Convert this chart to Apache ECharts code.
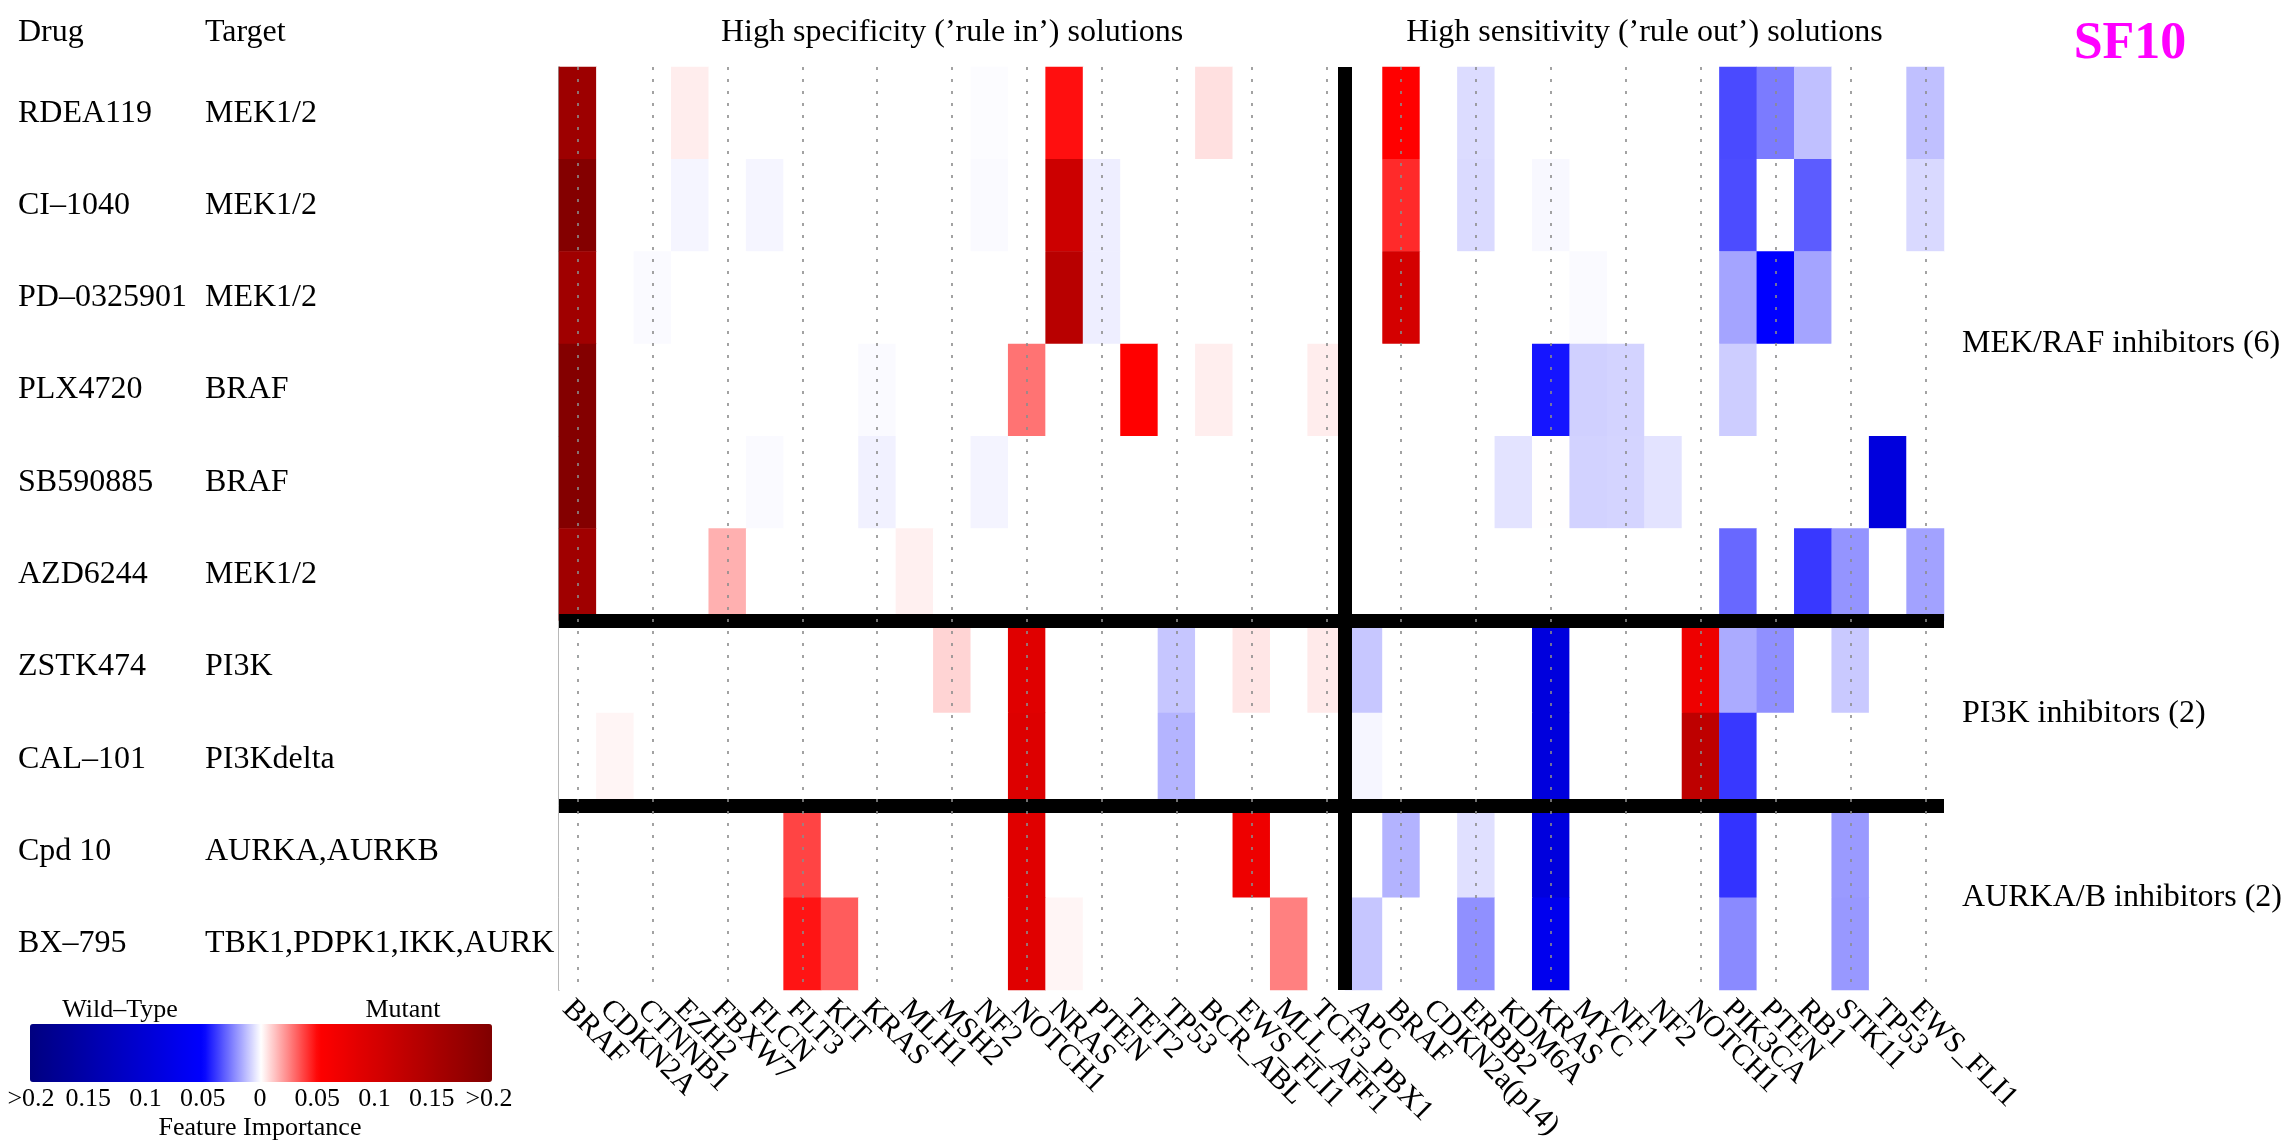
<!DOCTYPE html>
<html><head><meta charset="utf-8">
<script src="https://cdn.jsdelivr.net/npm/echarts@6/dist/echarts.min.js"></script>
<style>html,body{margin:0;padding:0;background:#fff}#c{width:2294px;height:1147px}</style>
</head><body><div id="c"></div>
<script>
// ---------------- data ----------------
const drugs = ['RDEA119', 'CI–1040', 'PD–0325901', 'PLX4720', 'SB590885', 'AZD6244', 'ZSTK474', 'CAL–101', 'Cpd 10', 'BX–795'];
const targets = ['MEK1/2', 'MEK1/2', 'MEK1/2', 'BRAF', 'BRAF', 'MEK1/2', 'PI3K', 'PI3Kdelta', 'AURKA,AURKB', 'TBK1,PDPK1,IKK,AURK'];
const ruleInGenes = ['BRAF', 'CDKN2A', 'CTNNB1', 'EZH2', 'FBXW7', 'FLCN', 'FLT3', 'KIT', 'KRAS', 'MLH1', 'MSH2', 'NF2', 'NOTCH1', 'NRAS', 'PTEN', 'TET2', 'TP53', 'BCR_ABL', 'EWS_FLI1', 'MLL_AFF1', 'TCF3_PBX1'];
const ruleOutGenes = ['APC', 'BRAF', 'CDKN2a(p14)', 'ERBB2', 'KDM6A', 'KRAS', 'MYC', 'NF1', 'NF2', 'NOTCH1', 'PIK3CA', 'PTEN', 'RB1', 'STK11', 'TP53', 'EWS_FLI1'];
const groupNames = ['MEK/RAF inhibitors (6)', 'PI3K inhibitors (2)', 'AURKA/B inhibitors (2)'];
const groupSizes = [6, 2, 2];
const legendTicks = ['>0.2', '0.15', '0.1', '0.05', '0', '0.05', '0.1', '0.15', '>0.2'];

// feature importance per drug: 21 rule-in values, then 16 rule-out values (negative = wild-type)
const vRDEA119 = [0.165, 0, 0, 0.0035, 0, 0, 0, 0, 0, 0, 0, -0.0005, 0, 0.047, 0, 0, 0, 0.006, 0, 0, 0,
                  0, 0.05, 0, -0.0069, 0, 0, 0, 0, 0, 0, -0.0355, -0.0259, -0.0124, 0, 0, -0.0124];
const vCI1040 = [0.195, 0, 0, -0.002, 0, -0.002, 0, 0, 0, 0, 0, -0.001, 0, 0.11, -0.0033, 0, 0, 0, 0, 0, 0,
                 0, 0.0418, 0, -0.0072, 0, -0.0014, 0, 0, 0, 0, -0.035, 0, -0.032, 0, 0, -0.0075];
const vPD0325901 = [0.162, 0, -0.001, 0, 0, 0, 0, 0, 0, 0, 0, 0, 0, 0.134, -0.0033, 0, 0, 0, 0, 0, 0,
                    0, 0.101, 0, 0, 0, 0, -0.001, 0, 0, 0, -0.0178, -0.05, -0.0178, 0, 0, 0];
const vPLX4720 = [0.195, 0, 0, 0, 0, 0, 0, 0, -0.001, 0, 0, 0, 0.0275, 0, 0, 0.05, 0, 0.0033, 0, 0, 0.0035,
                  0, 0, 0, 0, 0, -0.0459, -0.0092, -0.0086, 0, 0, -0.0098, 0, 0, 0, 0, 0];
const vSB590885 = [0.195, 0, 0, 0, 0, -0.001, 0, 0, -0.0028, 0, 0, -0.0022, 0, 0, 0, 0, 0, 0, 0, 0, 0,
                   0, 0, 0, 0, -0.0055, 0.0002, -0.0088, -0.0084, -0.0055, 0, 0, 0, 0, 0, -0.09, 0];
const vAZD6244 = [0.162, 0, 0, 0, 0.0155, 0, 0, 0, 0, 0.003, 0, 0, 0, 0, 0, 0, 0, 0, 0, 0, 0,
                  0, 0, 0, 0, 0, 0, 0, 0, 0, 0, -0.0296, 0, -0.039, -0.021, 0, -0.0182];
const vZSTK474 = [0, 0, 0, 0, 0, 0, 0, 0, 0, 0, 0.0084, 0, 0.087, 0, 0, 0, -0.0112, 0, 0.0049, 0, 0.0041,
                  -0.011, 0, 0, 0, 0, -0.09, 0, 0, 0, 0.07, -0.0165, -0.0218, 0, -0.0106, 0, 0];
const vCAL101 = [0, 0.002, 0, 0, 0, 0, 0, 0, 0, 0, 0, 0, 0.09, 0, 0, 0, -0.0147, 0, 0, 0, 0,
                 -0.0018, 0, 0, 0, 0, -0.09, 0, 0, 0, 0.127, -0.039, 0, 0, 0, 0, 0];
const vCpd10 = [0, 0, 0, 0, 0, 0, 0.0367, 0, 0, 0, 0, 0, 0.087, 0, 0, 0, 0, 0, 0.07, 0, 0,
                0, -0.0149, 0, -0.0061, 0, -0.09, 0, 0, 0, 0, -0.04, 0, 0, -0.0198, 0, 0];
const vBX795 = [0, 0, 0, 0, 0, 0, 0.046, 0.032, 0, 0, 0, 0, 0.087, 0.002, 0, 0, 0, 0, 0, 0.025, 0,
                -0.0112, 0, 0, -0.0218, 0, -0.07, 0, 0, 0, 0, -0.0229, 0, 0, -0.0202, 0, 0];
const drugValues = [vRDEA119, vCI1040, vPD0325901, vPLX4720, vSB590885, vAZD6244, vZSTK474, vCAL101, vCpd10, vBX795];

// ---------------- build ----------------
const FONT = "'Liberation Serif', 'Times New Roman', 'DejaVu Serif', serif";
const genes = ruleInGenes.concat(ruleOutGenes);
const nLeft = ruleInGenes.length, nRight = ruleOutGenes.length, nCols = genes.length, nRows = drugs.length;
const cells = [];
drugValues.forEach((row, r) => row.forEach((v, c) => cells.push([c, r, v])));

// group label positions (centre of each block) and separators
const groupLabelAt = {};
const groupBounds = [];
let acc = 0;
groupSizes.forEach((s, i) => { groupLabelAt[acc + s / 2] = groupNames[i]; acc += s; if (acc < nRows) groupBounds.push(acc); });

const GL = 559, GT = 67, GW = 1385, GH = 923;
const colW = GW / nCols;

const barStyle = { color: '#000', width: 14, type: 'solid', opacity: 1 };
const dotStyle = { color: '#8c8c8c', width: 1.6, type: [3, 9], opacity: 1 };
const lines = [];
lines.push({ xAxis: nLeft, lineStyle: barStyle });
groupBounds.forEach(b => lines.push({ yAxis: b, lineStyle: barStyle }));
for (let i = 0; i < nCols; i += 2) lines.push({ xAxis: i + 0.5, lineStyle: dotStyle });

const txt = (text, x, y, size, align, extra) => ({
  type: 'text', x: x, y: y, silent: true, z: 10,
  style: Object.assign({ text: text, font: size + 'px ' + FONT, fill: '#000',
    textAlign: align, align: align, textVerticalAlign: 'middle', verticalAlign: 'middle' }, extra || {})
});

const chart = echarts.init(document.getElementById('c'), null, { renderer: 'canvas' });
chart.setOption({
  animation: false,
  backgroundColor: '#fff',
  textStyle: { fontFamily: FONT },
  grid: [
    { left: GL, top: GT, width: GW, height: GH },
    { left: 31, top: 1024, width: 458, height: 58 }
  ],
  xAxis: [
    { type: 'category', gridIndex: 0, position: 'bottom', data: genes,
      axisLine: { show: false, onZero: false }, axisTick: { show: false }, splitLine: { show: false },
      axisLabel: { interval: 0, rotate: -45, fontSize: 30, color: '#000', margin: 4, verticalAlign: 'top', fontFamily: FONT } },
    { type: 'value', gridIndex: 0, position: 'top', min: 0, max: nCols, show: false,
      axisLine: { onZero: false }, splitLine: { show: false } },
    { type: 'category', gridIndex: 1, position: 'bottom', data: legendTicks, boundaryGap: false,
      axisLine: { show: false, onZero: false }, axisTick: { show: false }, splitLine: { show: false },
      axisLabel: { interval: 0, fontSize: 26, color: '#000', margin: 4, fontFamily: FONT },
      name: 'Feature Importance', nameLocation: 'middle', nameGap: 33,
      nameTextStyle: { fontSize: 26, color: '#000', fontFamily: FONT } }
  ],
  yAxis: [
    { type: 'category', gridIndex: 0, position: 'left', data: drugs, inverse: true,
      axisLine: { show: true, onZero: false, lineStyle: { color: '#808080', width: 1.5 } },
      axisTick: { show: false }, splitLine: { show: false },
      axisLabel: { interval: 0, align: 'left', margin: GL - 18, fontSize: 32, color: '#000', fontFamily: FONT } },
    { type: 'category', gridIndex: 0, position: 'left', data: targets, inverse: true,
      axisLine: { show: false, onZero: false }, axisTick: { show: false }, splitLine: { show: false },
      axisLabel: { interval: 0, align: 'left', margin: GL - 205, fontSize: 32, color: '#000', fontFamily: FONT } },
    { type: 'value', gridIndex: 0, position: 'right', min: 0, max: nRows, interval: 1, inverse: true,
      axisLine: { show: false, onZero: false }, axisTick: { show: false }, splitLine: { show: false },
      axisLabel: { margin: 18, fontSize: 32, color: '#000', fontFamily: FONT,
        formatter: v => groupLabelAt[v] || '' } },
    { type: 'value', gridIndex: 1, show: false, min: 0, max: 1, axisLine: { onZero: false }, splitLine: { show: false } }
  ],
  visualMap: {
    type: 'continuous', seriesIndex: 0, dimension: 2, min: -0.2, max: 0.2,
    orient: 'horizontal', left: 30, top: 1024, itemWidth: 58, itemHeight: 462,
    calculable: false, realtime: false, padding: 0, text: null, hoverLink: false,
    inRange: { color: ['#000080', '#0000AA', '#0000D5', '#0000FF', '#FFFFFF', '#FF0000', '#D50000', '#AA0000', '#800000'] }
  },
  series: [
    { type: 'heatmap', xAxisIndex: 0, yAxisIndex: 0, data: cells, z: 2,
      itemStyle: { borderWidth: 0 }, emphasis: { disabled: true }, progressive: 0 },
    { type: 'line', xAxisIndex: 1, yAxisIndex: 2, data: [], silent: true, z: 5,
      markLine: { silent: true, symbol: 'none', animation: false, label: { show: false },
        emphasis: { disabled: true }, data: lines } }
  ],
  graphic: [
    txt('Drug', 18, 33, 32, 'left'),
    txt('Target', 205, 33, 32, 'left'),
    txt('High specificity (’rule in’) solutions', GL + colW * nLeft / 2, 33, 32, 'center'),
    txt('High sensitivity (’rule out’) solutions', GL + colW * (nLeft + nRight / 2), 33, 32, 'center'),
    txt('SF10', 2130, 45, 52, 'center', { font: 'bold 52px ' + FONT, fill: '#FF00FF' }),
    txt('Wild–Type', 120, 1010, 26, 'center'),
    txt('Mutant', 403, 1010, 26, 'center')
  ]
});
</script>
</body></html>
